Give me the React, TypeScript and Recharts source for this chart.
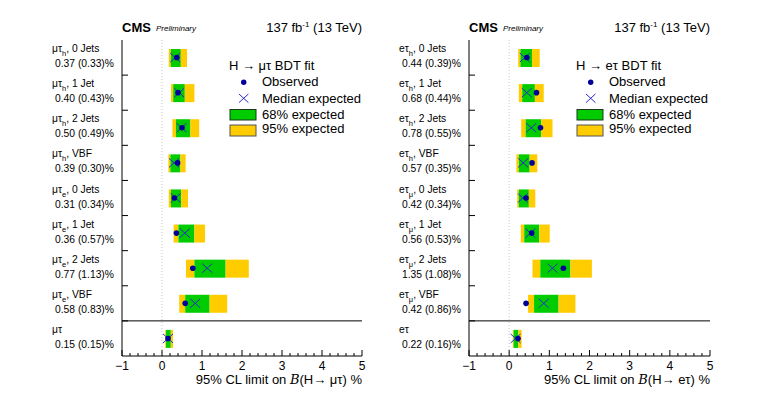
import React from 'react';
import { ComposedChart, Bar, Line, XAxis, YAxis, ReferenceLine, Legend, Label } from 'recharts';

const FONT = '"Liberation Sans", Arial, Helvetica, sans-serif';
const GREEN = '#00cc00';
const YELLOW = '#ffcc00';
const OBS = '#000099';
const EXP = '#2a2acc';

// x axis
const xTicks = [-1, 0, 1, 2, 3, 4, 5];
const xMinorStep = 0.2;

// H -> mu tau
const muSubs = ['h', 'h', 'h', 'h', 'e', 'e', 'e', 'e', ''];
const muCats = ['0 Jets', '1 Jet', '2 Jets', 'VBF', '0 Jets', '1 Jet', '2 Jets', 'VBF', ''];
const muObs = [0.37, 0.40, 0.50, 0.39, 0.31, 0.36, 0.77, 0.58, 0.15];
const muExp = [0.33, 0.43, 0.49, 0.30, 0.34, 0.57, 1.13, 0.83, 0.15];
const muLo95 = [0.17, 0.225, 0.26, 0.16, 0.17, 0.29, 0.60, 0.43, 0.08];
const muLo68 = [0.22, 0.28, 0.35, 0.21, 0.225, 0.41, 0.81, 0.58, 0.10];
const muHi68 = [0.47, 0.57, 0.71, 0.46, 0.48, 0.81, 1.59, 1.19, 0.22];
const muHi95 = [0.625, 0.81, 0.93, 0.59, 0.65, 1.075, 2.17, 1.63, 0.275];

// H -> e tau
const eSubs = ['h', 'h', 'h', 'h', 'μ', 'μ', 'μ', 'μ', ''];
const eCats = ['0 Jets', '1 Jet', '2 Jets', 'VBF', '0 Jets', '1 Jet', '2 Jets', 'VBF', ''];
const eObs = [0.44, 0.68, 0.78, 0.57, 0.42, 0.56, 1.35, 0.42, 0.22];
const eExp = [0.39, 0.44, 0.55, 0.35, 0.34, 0.53, 1.08, 0.86, 0.16];
const eLo95 = [0.225, 0.24, 0.30, 0.18, 0.20, 0.29, 0.58, 0.47, 0.09];
const eLo68 = [0.28, 0.325, 0.41, 0.24, 0.24, 0.375, 0.775, 0.62, 0.11];
const eHi68 = [0.57, 0.64, 0.80, 0.51, 0.49, 0.75, 1.525, 1.23, 0.23];
const eHi95 = [0.76, 0.86, 1.08, 0.70, 0.65, 1.01, 2.06, 1.65, 0.31];

interface Row {
  name: string;
  sub: string;
  cat: string;
  obs: number;
  exp: number;
  base: number;
  yl: number;
  g: number;
  yr: number;
}

function buildRows(subs: string[], cats: string[], obs: number[], exp: number[],
  lo95: number[], lo68: number[], hi68: number[], hi95: number[]): Row[] {
  return obs.map((o, i) => ({
    name: `r${i}`,
    sub: subs[i],
    cat: cats[i],
    obs: o,
    exp: exp[i],
    base: lo95[i],
    yl: lo68[i] - lo95[i],
    g: hi68[i] - lo68[i],
    yr: hi95[i] - hi68[i],
  }));
}

const muRows = buildRows(muSubs, muCats, muObs, muExp, muLo95, muLo68, muHi68, muHi95);
const eRows = buildRows(eSubs, eCats, eObs, eExp, eLo95, eLo68, eHi68, eHi95);

const minorTicks: number[] = [];
for (let v = xTicks[0]; v <= xTicks[xTicks.length - 1] + 1e-9; v += xMinorStep) {
  minorTicks.push(Math.round(v * 10) / 10);
}

const isInt = (v: number) => Math.abs(v - Math.round(v)) < 1e-6;

const BottomTick = (props: any) => {
  const { x, y, payload } = props;
  const v = payload.value;
  const major = isInt(v);
  return (
    <g>
      <line x1={x} x2={x} y1={y} y2={y - (major ? 6 : 3)} stroke="#000" />
      {major && (
        <text x={x} y={y + 13.5} textAnchor="middle" fontSize={12} fontFamily={FONT} fill="#000">
          {v < 0 ? `\u2212${-v}` : `${v}`}
        </text>
      )}
    </g>
  );
};

const TopTick = (props: any) => {
  const { x, y, payload } = props;
  const major = isInt(payload.value);
  return <line x1={x} x2={x} y1={y} y2={y + (major ? 6 : 3)} stroke="#000" />;
};

const ObsDot = (p: any) => (
  <circle key={`o${p.index}`} cx={p.cx} cy={p.cy} r={2.8} fill={OBS} />
);

const ExpDot = (p: any) => (
  <path
    key={`x${p.index}`}
    d={`M${p.cx - 5},${p.cy - 4.5}L${p.cx + 5},${p.cy + 4.5}M${p.cx + 5},${p.cy - 4.5}L${p.cx - 5},${p.cy + 4.5}`}
    stroke={EXP}
    strokeWidth={1}
    fill="none"
  />
);

const makeLegend = (lep: string) => () => (
  <svg width={140} height={84} style={{ display: 'block', overflow: 'visible' }} fontFamily={FONT} fontSize={13}>
    <text x={4} y={15}>{`H \u2192 ${lep} BDT fit`}</text>
    <circle cx={18.7} cy={27.3} r={2.7} fill={OBS} />
    <text x={37} y={31}>Observed</text>
    <path d="M14,39 L23.4,47.6 M23.4,39 L14,47.6" stroke={EXP} fill="none" />
    <text x={37} y={47.5}>Median expected</text>
    <rect x={5} y={54.5} width={26} height={10.5} fill={GREEN} stroke="#1a3a1a" />
    <text x={37} y={63.5}>68% expected</text>
    <rect x={5} y={70} width={26} height={11} fill={YELLOW} stroke="#555" />
    <text x={37} y={77.5}>95% expected</text>
  </svg>
);

interface PanelProps {
  left: number;
  width: number;
  plotLeft: number;
  marginRight: number;
  rows: Row[];
  lep: string;
}

const HEIGHT = 396;
const TOP = 40;
const BOTTOM_AXIS = 40;

function Panel({ left, width, plotLeft, marginRight, rows, lep }: PanelProps) {
  const plotRight = width - marginRight;
  const last = rows.length - 1;
  const band = (HEIGHT - TOP - BOTTOM_AXIS) / rows.length;

  const LeftTick = (props: any) => {
    const { y, index } = props;
    const x = plotLeft;
    const r = rows[index];
    return (
      <g fontFamily={FONT} fontSize={10.3} fill="#000">
        {index > 0 && <line x1={x} x2={x + 6} y1={y - band / 2} y2={y - band / 2} stroke="#000" />}
        {index === last ? (
          <text x={x - 70} y={y - 5.5}>{lep}</text>
        ) : (
          <text x={x - 70} y={y - 5.5}>
            <tspan>{lep}</tspan>
            <tspan fontSize={7.5} dy={4}>{r.sub}</tspan>
            <tspan dy={-4}>{`, ${r.cat}`}</tspan>
          </text>
        )}
        <text x={x - 67} y={y + 9.5}>{`${r.obs.toFixed(2)} (${r.exp.toFixed(2)})%`}</text>
      </g>
    );
  };

  const RightTick = (props: any) => {
    const { y, index } = props;
    if (index === 0) return <g />;
    return <line x1={plotRight} x2={plotRight - 6} y1={y - band / 2} y2={y - band / 2} stroke="#000" />;
  };

  return (
    <div style={{ position: 'absolute', left, top: 0, width, height: HEIGHT }}>
      <ComposedChart
        width={width}
        height={HEIGHT}
        data={rows}
        layout="vertical"
        margin={{ top: TOP, right: marginRight, bottom: 0, left: 0 }}
        barSize={18}
      >
        <XAxis
          type="number"
          domain={[xTicks[0], xTicks[xTicks.length - 1]]}
          ticks={minorTicks}
          interval={0}
          height={BOTTOM_AXIS}
          tickSize={0}
          tickMargin={0}
          tickLine={false}
          tick={BottomTick}
          axisLine={{ stroke: '#000' }}
          allowDataOverflow
        >
          <Label
            content={(p: any) => {
              const vb = p.viewBox;
              return (
                <text x={vb.x + vb.width} y={vb.y + 28} textAnchor="end" fontFamily={FONT} fontSize={13} fill="#000">
                  95% CL limit on{' '}
                  <tspan fontStyle="italic" fontFamily='"DejaVu Serif", serif'>B</tspan>
                  {`(H\u2192 ${lep}) %`}
                </text>
              );
            }}
          />
        </XAxis>
        <XAxis
          xAxisId="top"
          orientation="top"
          type="number"
          domain={[xTicks[0], xTicks[xTicks.length - 1]]}
          ticks={minorTicks}
          interval={0}
          height={0}
          tickSize={0}
          tickMargin={0}
          tickLine={false}
          tick={TopTick}
          axisLine={{ stroke: '#000' }}
          allowDataOverflow
        />
        <YAxis
          type="category"
          dataKey="name"
          width={plotLeft}
          interval={0}
          tickSize={0}
          tickMargin={0}
          tickLine={false}
          tick={LeftTick}
          axisLine={{ stroke: '#000' }}
        />
        <YAxis
          yAxisId="right"
          orientation="right"
          type="category"
          dataKey="name"
          width={0}
          interval={0}
          tickSize={0}
          tickMargin={0}
          tickLine={false}
          tick={RightTick}
          axisLine={{ stroke: '#000' }}
        />
        <ReferenceLine x={0} stroke="#c8c8c8" strokeDasharray="1 2" />
        <Bar dataKey="base" stackId="s" fill="none" isAnimationActive={false} />
        <Bar dataKey="yl" stackId="s" fill={YELLOW} isAnimationActive={false} />
        <Bar dataKey="g" stackId="s" fill={GREEN} isAnimationActive={false} />
        <Bar dataKey="yr" stackId="s" fill={YELLOW} isAnimationActive={false} />
        <Line dataKey="exp" stroke="none" dot={ExpDot} activeDot={false} isAnimationActive={false} />
        <Line dataKey="obs" stroke="none" dot={ObsDot} activeDot={false} isAnimationActive={false} />
        <ReferenceLine y={rows[last].name} position="start" stroke="#000" />
        <Legend
          layout="horizontal"
          verticalAlign="middle"
          content={makeLegend(lep)}
          wrapperStyle={{ left: plotLeft + 103, top: 55, width: 140, height: 84 }}
        />
      </ComposedChart>
      <svg
        width={width}
        height={40}
        style={{ position: 'absolute', left: 0, top: 0, pointerEvents: 'none' }}
        fontFamily={FONT}
      >
        <text x={plotLeft} y={32.3} fontWeight="bold" fontSize={13}>CMS</text>
        <text x={plotLeft + 34} y={31} fontStyle="italic" fontSize={8}>Preliminary</text>
        <text x={plotRight} y={32.3} textAnchor="end" fontSize={13}>
          137 fb<tspan fontSize={8} dy={-5}>-1</tspan>
          <tspan dy={5}> (13 TeV)</tspan>
        </text>
      </svg>
    </div>
  );
}

export default function App() {
  return (
    <div style={{ position: 'absolute', left: 0, top: 0, width: 763, height: HEIGHT, background: '#fff' }}>
      <Panel left={0} width={380} plotLeft={122} marginRight={18} rows={muRows} lep={'μτ'} />
      <Panel left={380} width={383} plotLeft={89} marginRight={53} rows={eRows} lep={'eτ'} />
    </div>
  );
}
